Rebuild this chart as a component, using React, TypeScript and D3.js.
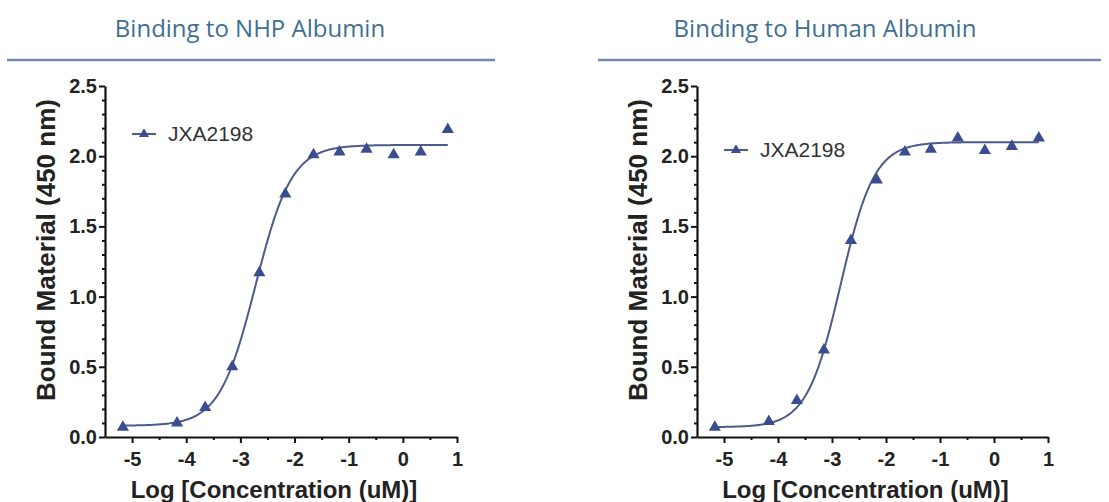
import React, { useRef, useEffect } from "react";
import * as d3 from "d3";

// log10 concentration (uM) for each dilution
const logConc = [-5.17, -4.17, -3.65, -3.15, -2.65, -2.17, -1.65, -1.17, -0.67, -0.17, 0.33, 0.83];
// bound material (OD 450 nm)
const nhpValues = [0.07, 0.1, 0.21, 0.5, 1.17, 1.73, 2.01, 2.03, 2.05, 2.01, 2.03, 2.19];
const humanValues = [0.07, 0.11, 0.26, 0.62, 1.4, 1.83, 2.03, 2.05, 2.13, 2.04, 2.07, 2.13];
// 4PL fit: bottom, top, logEC50, hill slope
const nhpFit = [0.08, 2.08, -2.72, 1.3];
const humanFit = [0.07, 2.1, -2.84, 1.39];

const xTicks = [-5, -4, -3, -2, -1, 0, 1];
const xMinor = [-4.5, -3.5, -2.5, -1.5, -0.5, 0.5];
const yTicks = [0, 0.5, 1, 1.5, 2, 2.5];
const yMinor = d3.range(1, 25).filter((i) => i % 5 !== 0).map((i) => i / 10);

const seriesName = "JXA2198";
const titles = ["Binding to NHP Albumin", "Binding to Human Albumin"];

const MARK = "#3b4d8e";
const LINE = "#4c5b8a";

const panels = [
  { title: titles[0], values: nhpValues, fit: nhpFit, x0: 105, x1: 457, titleX: 250, rule: [7, 495], legendY: 134, yLabelX: 45 },
  { title: titles[1], values: humanValues, fit: humanFit, x0: 697, x1: 1048, titleX: 825, rule: [598, 1101], legendY: 150, yLabelX: 637 },
];

const fourPL = (fit, x) => fit[0] + (fit[1] - fit[0]) / (1 + Math.pow(10, (fit[2] - x) * fit[3]));

const App = () => {
  const svgRef = useRef(null);

  useEffect(() => {
    const svg = d3.select(svgRef.current);
    svg.selectAll("*").remove();

    panels.forEach((p) => {
      const g = svg.append("g");
      const x = d3.scaleLinear().domain([-5.5, 1]).range([p.x0, p.x1]);
      const y = d3.scaleLinear().domain([0, 2.5]).range([437, 86]);

      // heading + rule
      g.append("text")
        .attr("x", p.titleX)
        .attr("y", 37)
        .attr("text-anchor", "middle")
        .attr("font-family", "'Open Sans', sans-serif")
        .attr("font-size", 24)
        .attr("fill", "#3f6f91")
        .text(p.title);
      g.append("line")
        .attr("x1", p.rule[0]).attr("x2", p.rule[1])
        .attr("y1", 60).attr("y2", 60)
        .attr("stroke", "#7489a6")
        .attr("stroke-width", 2.5);

      // axes
      const yAxis = d3.axisLeft(y).tickValues(yTicks).tickSize(6).tickSizeOuter(0).tickPadding(2)
        .tickFormat(d3.format(".1f"));
      const ya = g.append("g").attr("transform", `translate(${p.x0},0)`).call(yAxis);
      g.append("g").attr("transform", `translate(${p.x0},0)`)
        .call(d3.axisLeft(y).tickValues(yMinor).tickSize(3).tickFormat(() => ""))
        .call((s) => s.select(".domain").remove());

      const xAxis = d3.axisBottom(x).tickValues(xTicks).tickSize(6).tickSizeOuter(0).tickPadding(9)
        .tickFormat(d3.format("d"));
      const xa = g.append("g").attr("transform", `translate(0,437)`).call(xAxis);
      g.append("g").attr("transform", `translate(0,437)`)
        .call(d3.axisBottom(x).tickValues(xMinor).tickSize(3).tickFormat(() => ""))
        .call((s) => s.select(".domain").remove());

      [ya, xa].forEach((a) => {
        a.select(".domain").attr("stroke", "#111").attr("stroke-width", 2.2);
        a.selectAll("text")
          .attr("font-family", "'Liberation Sans', Arial, sans-serif")
          .attr("font-weight", "bold")
          .attr("font-size", 20)
          .attr("fill", "#222");
      });
      g.selectAll(".tick line").attr("stroke", "#111").attr("stroke-width", 2);
      xa.selectAll("text").text((d) => (d < 0 ? "-" + Math.abs(d) : d));

      // axis titles
      g.append("text")
        .attr("x", (p.x0 + p.x1) / 2 - 7)
        .attr("y", 498)
        .attr("text-anchor", "middle")
        .attr("font-family", "'Liberation Sans', Arial, sans-serif")
        .attr("font-weight", "bold")
        .attr("font-size", 24)
        .attr("fill", "#222")
        .text("Log [Concentration (uM)]");
      g.append("text")
        .attr("transform", `translate(${p.yLabelX + 10},250) rotate(-90)`)
        .attr("text-anchor", "middle")
        .attr("font-family", "'Liberation Sans', Arial, sans-serif")
        .attr("font-weight", "bold")
        .attr("font-size", 26)
        .attr("fill", "#222")
        .text("Bound Material (450 nm)");

      // fitted curve
      const xs = d3.range(logConc[0], logConc[logConc.length - 1] + 0.001, 0.02);
      const line = d3.line().x((d) => x(d)).y((d) => y(fourPL(p.fit, d))).curve(d3.curveLinear);
      g.append("path")
        .datum(xs)
        .attr("d", line)
        .attr("fill", "none")
        .attr("stroke", LINE)
        .attr("stroke-width", 2);

      // points
      const tri = d3.symbol().type(d3.symbolTriangle).size(64);
      g.selectAll(".pt")
        .data(p.values)
        .enter()
        .append("path")
        .attr("class", "pt")
        .attr("d", tri)
        .attr("transform", (d, i) => `translate(${x(logConc[i])},${y(d)})`)
        .attr("fill", MARK);

      // legend
      const lx = p.x0 + 27;
      g.append("line")
        .attr("x1", lx).attr("x2", lx + 24)
        .attr("y1", p.legendY).attr("y2", p.legendY)
        .attr("stroke", LINE).attr("stroke-width", 2);
      g.append("path")
        .attr("d", d3.symbol().type(d3.symbolTriangle).size(44))
        .attr("transform", `translate(${lx + 12},${p.legendY})`)
        .attr("fill", MARK);
      g.append("text")
        .attr("x", lx + 36)
        .attr("y", p.legendY + 7)
        .attr("font-family", "'Liberation Sans', Arial, sans-serif")
        .attr("font-size", 21)
        .attr("fill", "#333")
        .text(seriesName);
    });

    return () => {};
  }, []);

  return (
    <svg
      ref={svgRef}
      width={1109}
      height={502}
      style={{ position: "absolute", left: 0, top: 0, background: "#fff" }}
    />
  );
};

export default App;
